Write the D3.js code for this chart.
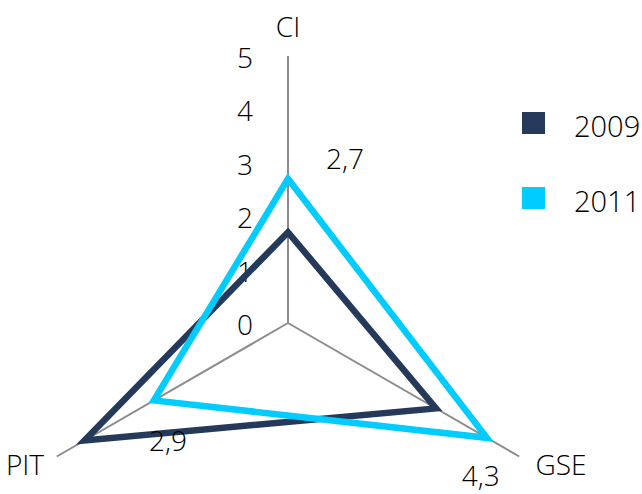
<!DOCTYPE html>
<html>
<head>
<meta charset="utf-8">
<script src="https://cdn.jsdelivr.net/npm/d3@7"></script>
<style>
  html, body { margin: 0; padding: 0; background: #fff; }
  text { font-family: "Open Sans", sans-serif; font-weight: 300; fill: #000; }
</style>
</head>
<body>
<div id="chart"></div>
<script>
// Data
const axesNames  = ["CI", "GSE", "PIT"];
const years      = ["2009", "2011"];
const values2009 = [1.7, 3.2, 4.4];
const values2011 = [2.7, 4.3, 2.9];
const tickValues = [0, 1, 2, 3, 4, 5];
const tickLabels = ["0", "1", "2", "3", "4", "5"];
const valueLabels2011 = ["2,7", "4,3", "2,9"];

const config = {
  width      : 642,
  height     : 494,
  cx         : 288,
  cy         : 323,
  radius     : 267,
  colors     : ["#253a5a", "#00ccff"],
  axisColor  : "#8c8c8c",
  fontSize   : 28,
};

const svg = d3.select("#chart")
  .append("svg")
    .attr("width", config.width)
    .attr("height", config.height);

const g = svg.append("g")
  .attr("transform", "translate(" + config.cx + "," + config.cy + ")");

const r = d3.scaleLinear().domain([0, 5]).range([0, config.radius]);

// angle of each axis, CI straight up, then clockwise
const angle = d3.scalePoint()
  .domain(axesNames)
  .range([-Math.PI / 2, -Math.PI / 2 + 2 * Math.PI * 2 / 3]);

function pt(name, v) {
  const a = angle(name);
  return [r(v) * Math.cos(a), r(v) * Math.sin(a)];
}

// axis lines
g.selectAll(".axis")
  .data(axesNames)
  .enter()
  .append("line")
    .attr("class", "axis")
    .attr("x1", 0).attr("y1", 0)
    .attr("x2", function(d) { return pt(d, 5)[0] })
    .attr("y2", function(d) { return pt(d, 5)[1] })
    .style("stroke", config.axisColor)
    .style("stroke-width", 2);

// tick labels along CI axis
g.selectAll(".tick")
  .data(tickValues)
  .enter()
  .append("text")
    .attr("class", "tick")
    .attr("x", -35)
    .attr("y", function(d) { return -r(d) + 1 })
    .attr("text-anchor", "end")
    .attr("dominant-baseline", "central")
    .style("font-size", config.fontSize + "px")
    .text(function(d, i) { return tickLabels[i] });

// axis names
const nameOffset = { CI: [0, -297], GSE: [273, 141], PIT: [-263, 141] };
g.selectAll(".axisName")
  .data(axesNames)
  .enter()
  .append("text")
    .attr("class", "axisName")
    .attr("x", function(d) { return nameOffset[d][0] })
    .attr("y", function(d) { return nameOffset[d][1] })
    .attr("text-anchor", "middle")
    .attr("dominant-baseline", "central")
    .style("font-size", config.fontSize + "px")
    .text(function(d) { return d });

// series polygons
const line = d3.line().curve(d3.curveLinearClosed);
const series = [values2009, values2011];

g.selectAll(".series")
  .data(series)
  .enter()
  .append("path")
    .attr("class", "series")
    .attr("d", function(vals) {
      return line(axesNames.map(function(n, i) { return pt(n, vals[i]) }))
    })
    .style("fill", "none")
    .style("stroke", function(d, i) { return config.colors[i] })
    .style("stroke-width", 6.5)
    .style("stroke-linejoin", "miter");

// value labels for 2011
const labelShift = [[57, -21], [-6, 37], [14, 40]];
g.selectAll(".valueLabel")
  .data(values2011)
  .enter()
  .append("text")
    .attr("class", "valueLabel")
    .attr("x", function(d, i) { return pt(axesNames[i], d)[0] + labelShift[i][0] })
    .attr("y", function(d, i) { return pt(axesNames[i], d)[1] + labelShift[i][1] })
    .attr("text-anchor", "middle")
    .attr("dominant-baseline", "central")
    .style("font-size", config.fontSize + "px")
    .text(function(d, i) { return valueLabels2011[i] });

// legend
const legend = svg.append("g")
  .attr("transform", "translate(522,112)");

const item = legend.selectAll(".item")
  .data(years)
  .enter()
  .append("g")
    .attr("class", "item")
    .attr("transform", function(d, i) { return "translate(0," + (i * 75) + ")" });

item.append("rect")
  .attr("width", 23)
  .attr("height", 22)
  .style("fill", function(d, i) { return config.colors[i] });

item.append("text")
  .attr("x", 52)
  .attr("y", 13)
  .attr("dominant-baseline", "central")
  .style("font-size", "29px")
  .text(function(d) { return d });
</script>
</body>
</html>
